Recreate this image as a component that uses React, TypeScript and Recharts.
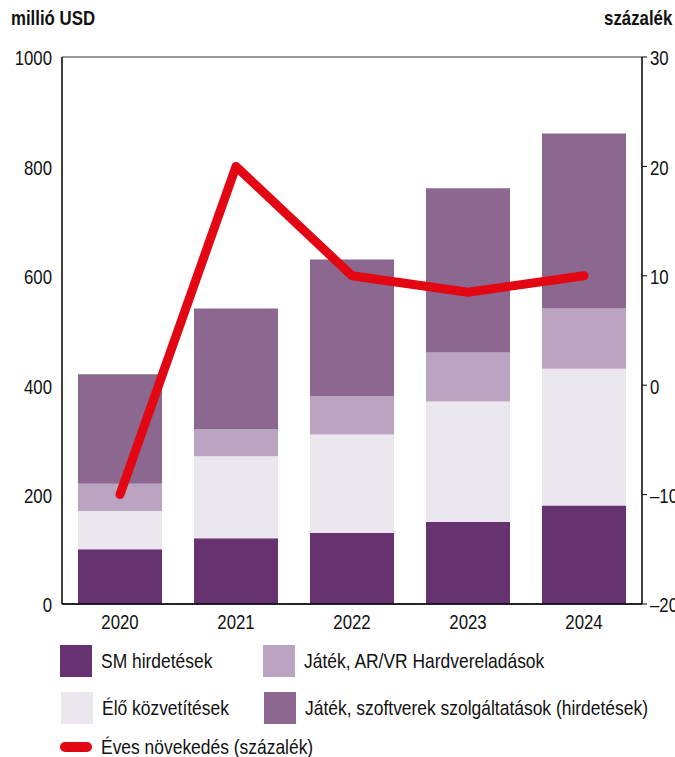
import React from 'react';
import {
  ComposedChart, Bar, Line, XAxis, YAxis, CartesianGrid,
} from 'recharts';

const years = ['2020', '2021', '2022', '2023', '2024'];
const smAds = [100, 120, 130, 150, 180];
const liveStreams = [70, 150, 180, 220, 250];
const hardwareSales = [50, 50, 70, 90, 110];
const softwareServices = [200, 220, 250, 300, 320];
const annualGrowth = [-10, 20, 10, 8.5, 10];

const leftTicks = [0, 200, 400, 600, 800, 1000];
const rightTicks = [-20, -10, 0, 10, 20, 30];

const FONT = '"Liberation Sans", Arial, sans-serif';
const FONT_SIZE = 21;
// condensed look for the labels
const SQUEEZE = 0.8;
const LEGEND_SQUEEZE = 0.83;

const COLORS = {
  sm: '#663370',
  live: '#ECE6EF',
  hardware: '#BBA3C2',
  software: '#8C6790',
  growth: '#E30613',
};

const data = years.map((year, i) => ({
  year,
  sm: smAds[i],
  live: liveStreams[i],
  hardware: hardwareSales[i],
  software: softwareServices[i],
  growth: annualGrowth[i],
}));

const formatRight = (v: number) => (v < 0 ? `–${Math.abs(v)}` : `${v}`);

function NarrowTick(props: any) {
  const { x, y, payload, textAnchor, dy, format } = props;
  const label = format ? format(payload.value) : payload.value;
  return (
    <text
      transform={`translate(${x},${y}) scale(${SQUEEZE},1)`}
      x={0}
      y={0}
      dy={dy}
      textAnchor={textAnchor}
      fill="#111"
      fontSize={FONT_SIZE}
      fontFamily={FONT}
    >
      {label}
    </text>
  );
}

function Narrow({ children, bold, origin = 'left', squeeze = SQUEEZE }: {
  children: React.ReactNode; bold?: boolean; origin?: string; squeeze?: number;
}) {
  return (
    <span
      style={{
        display: 'inline-block',
        fontFamily: FONT,
        fontSize: FONT_SIZE,
        fontWeight: bold ? 700 : 400,
        color: '#111',
        whiteSpace: 'nowrap',
        transform: `scaleX(${squeeze})`,
        transformOrigin: origin,
      }}
    >
      {children}
    </span>
  );
}

function LegendItem({ color, label, left, top }: { color: string; label: string; left: number; top: number }) {
  return (
    <div style={{ position: 'absolute', left, top, height: 32, display: 'flex', alignItems: 'center' }}>
      <div style={{ width: 32, height: 32, background: color, marginRight: 9 }} />
      <Narrow squeeze={LEGEND_SQUEEZE}>{label}</Narrow>
    </div>
  );
}

export default function App() {
  return (
    <div style={{ position: 'absolute', left: 0, top: 0, width: 675, height: 757, background: '#fff', overflow: 'hidden' }}>
      <div style={{ position: 'absolute', left: 11, top: 6 }}>
        <Narrow bold>millió USD</Narrow>
      </div>
      <div style={{ position: 'absolute', right: 3, top: 6 }}>
        <Narrow bold origin="right">százalék</Narrow>
      </div>

      <ComposedChart
        width={675}
        height={640}
        data={data}
        margin={{ top: 57, right: 0, bottom: 0, left: 0 }}
        barCategoryGap={16}
      >
        <CartesianGrid vertical={false} stroke="#333" strokeWidth={1} />
        <XAxis
          dataKey="year"
          axisLine={{ stroke: '#000', strokeWidth: 1.5 }}
          tickLine={false}
          tick={<NarrowTick dy="0.72em" />}
          tickMargin={4}
          height={36}
        />
        <YAxis
          yAxisId="left"
          domain={[0, 1000]}
          ticks={leftTicks}
          axisLine={{ stroke: '#000', strokeWidth: 1.5 }}
          tickLine={false}
          tick={<NarrowTick dy="0.4em" />}
          tickMargin={4}
          width={62}
        />
        <YAxis
          yAxisId="right"
          orientation="right"
          domain={[-20, 30]}
          ticks={rightTicks}
          axisLine={{ stroke: '#000', strokeWidth: 1.5 }}
          tickLine={{ stroke: '#000' }}
          tickSize={5}
          tick={<NarrowTick dy="0.4em" format={formatRight} />}
          tickMargin={3}
          width={33}
        />
        <Bar yAxisId="left" dataKey="sm" stackId="a" fill={COLORS.sm} isAnimationActive={false} />
        <Bar yAxisId="left" dataKey="live" stackId="a" fill={COLORS.live} isAnimationActive={false} />
        <Bar yAxisId="left" dataKey="hardware" stackId="a" fill={COLORS.hardware} isAnimationActive={false} />
        <Bar yAxisId="left" dataKey="software" stackId="a" fill={COLORS.software} isAnimationActive={false} />
        <Line
          yAxisId="right"
          dataKey="growth"
          type="linear"
          stroke={COLORS.growth}
          strokeWidth={9}
          strokeLinecap="round"
          strokeLinejoin="round"
          dot={false}
          activeDot={false}
          isAnimationActive={false}
        />
      </ComposedChart>

      <LegendItem color={COLORS.sm} label="SM hirdetések" left={60} top={645} />
      <LegendItem color={COLORS.hardware} label="Játék, AR/VR Hardvereladások" left={263} top={645} />
      <LegendItem color={COLORS.live} label="Élő közvetítések" left={61} top={692} />
      <LegendItem color={COLORS.software} label="Játék, szoftverek szolgáltatások (hirdetések)" left={264} top={692} />
      <div style={{ position: 'absolute', left: 60, top: 731, height: 32, display: 'flex', alignItems: 'center' }}>
        <div style={{ width: 32, height: 10, borderRadius: 5, background: COLORS.growth, marginRight: 9 }} />
        <Narrow squeeze={LEGEND_SQUEEZE}>Éves növekedés (százalék)</Narrow>
      </div>
    </div>
  );
}
